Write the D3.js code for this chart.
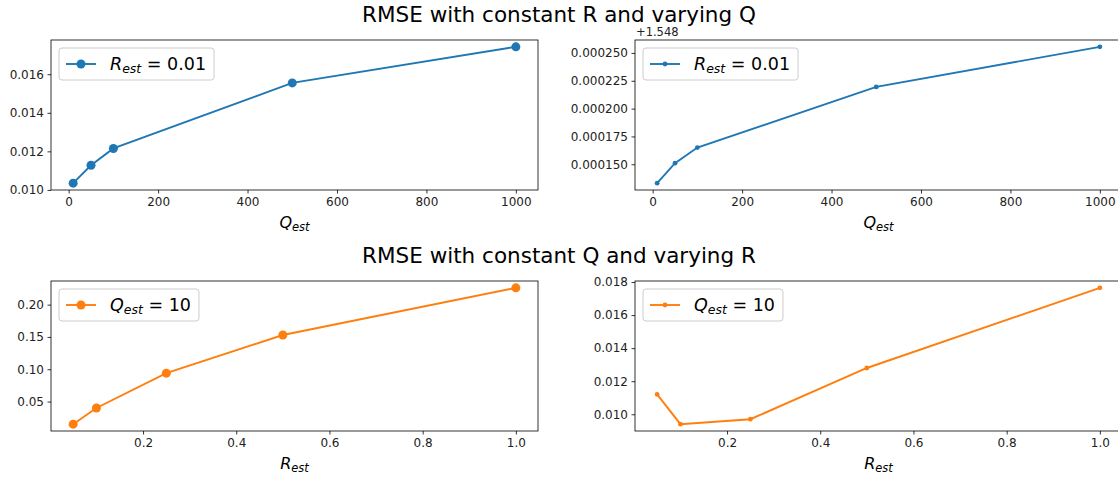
<!DOCTYPE html>
<html>
<head>
<meta charset="utf-8">
<script src="https://cdn.jsdelivr.net/npm/d3@7"></script>
<style>
  html, body { margin: 0; padding: 0; background: #fff; }
  svg { display: block; font-family: "DejaVu Sans", sans-serif; }
</style>
</head>
<body>
<svg id="chart" width="1118" height="478"></svg>
<script>
// ---- data ----
const qEst = [10, 50, 100, 500, 1000];
const rmseQ_left = [0.01035, 0.01128, 0.01215, 0.01555, 0.01742];
const rmseQ_rightOffset = 1.548;
const rmseQ_right = [0.000133, 0.000151, 0.000165, 0.0002195, 0.0002555]; // relative to offset
const rEst = [0.05, 0.1, 0.25, 0.5, 1.0];
const rmseR_left = [0.015, 0.040, 0.094, 0.153, 0.226];
const rmseR_right = [0.0112, 0.0094, 0.0097, 0.0128, 0.01765];

const qTicks = [0, 200, 400, 600, 800, 1000];
const rTicks = [0.2, 0.4, 0.6, 0.8, 1.0];
const yTicksQL = [0.010, 0.012, 0.014, 0.016];
const yTicksQR = [0.000150, 0.000175, 0.000200, 0.000225, 0.000250];
const yTicksRL = [0.05, 0.10, 0.15, 0.20];
const yTicksRR = [0.010, 0.012, 0.014, 0.016, 0.018];

const titles = ["RMSE with constant R and varying Q", "RMSE with constant Q and varying R"];

const BLUE = "#1f77b4", ORANGE = "#ff7f0e";
const svg = d3.select("#chart");

function padExtent(vals) {
  const [a, b] = d3.extent(vals);
  const m = (b - a) * 0.05;
  return [a - m, b + m];
}

// titles
svg.append("text").attr("x", 559).attr("y", 22).attr("text-anchor", "middle")
  .attr("font-size", 21.5).attr("fill", "#000").text(titles[0]);
svg.append("text").attr("x", 559).attr("y", 263).attr("text-anchor", "middle")
  .attr("font-size", 21.5).attr("fill", "#000").text(titles[1]);

function panel(cfg) {
  const g = svg.append("g").attr("transform", `translate(${cfg.x},${cfg.y})`);
  const x = d3.scaleLinear().domain(padExtent(cfg.xs)).range([0, cfg.w]);
  const y = d3.scaleLinear().domain(padExtent(cfg.ys)).range([cfg.h, 0]);

  const xAxis = d3.axisBottom(x).tickValues(cfg.xTicks).tickSize(3.5).tickPadding(3.5)
    .tickFormat(cfg.xFmt);
  const yAxis = d3.axisLeft(y).tickValues(cfg.yTicks).tickSize(3.5).tickPadding(3.5)
    .tickFormat(cfg.yFmt);

  const gx = g.append("g").attr("transform", `translate(0,${cfg.h})`).call(xAxis);
  const gy = g.append("g").call(yAxis);
  [gx, gy].forEach(a => {
    a.select(".domain").remove();
    a.selectAll(".tick line").attr("stroke", "#000").attr("stroke-width", 0.8);
    a.selectAll(".tick text").attr("font-size", 12).attr("fill", "#222")
      .attr("font-family", "DejaVu Sans");
  });

  // spines
  g.append("rect").attr("x", 0).attr("y", 0).attr("width", cfg.w).attr("height", cfg.h)
    .attr("fill", "none").attr("stroke", "#000").attr("stroke-width", 0.8);

  const pts = cfg.xs.map((d, i) => [d, cfg.ys[i]]);
  const line = d3.line().x(d => x(d[0])).y(d => y(d[1]));
  g.append("path").datum(pts).attr("d", line).attr("fill", "none")
    .attr("stroke", cfg.color).attr("stroke-width", 1.9);
  g.selectAll("circle.pt").data(pts).enter().append("circle").attr("class", "pt")
    .attr("cx", d => x(d[0])).attr("cy", d => y(d[1])).attr("r", cfg.r).attr("fill", cfg.color);

  // x label (mathtext-like)
  const xl = g.append("text").attr("x", cfg.w / 2).attr("y", cfg.h + 38)
    .attr("text-anchor", "middle").attr("font-size", 16).attr("fill", "#000");
  xl.append("tspan").attr("font-style", "italic").text(cfg.xLabel);
  xl.append("tspan").attr("font-style", "italic").attr("font-size", 11.5).attr("dy", 3).text("est");

  // offset text
  if (cfg.offsetText) {
    g.append("text").attr("x", 1).attr("y", -4).attr("font-size", 11.5).attr("fill", "#222")
      .text(cfg.offsetText);
  }

  // legend
  const lg = g.append("g").attr("transform", "translate(8,8)");
  const box = lg.append("rect").attr("rx", 3).attr("ry", 3).attr("fill", "#fff")
    .attr("fill-opacity", 0.8).attr("stroke", "#ccc").attr("stroke-width", 1);
  lg.append("line").attr("x1", 7).attr("x2", 37).attr("y1", 16).attr("y2", 16)
    .attr("stroke", cfg.color).attr("stroke-width", 1.9);
  lg.append("circle").attr("cx", 22).attr("cy", 16).attr("r", cfg.r).attr("fill", cfg.color);
  const lt = lg.append("text").attr("x", 51).attr("y", 22).attr("font-size", 17.5).attr("fill", "#000");
  lt.append("tspan").attr("font-style", "italic").text(cfg.legendVar);
  lt.append("tspan").attr("font-style", "italic").attr("font-size", 12.5).attr("dy", 3).text("est");
  lt.append("tspan").attr("dy", -3).text("\u00a0=\u00a0" + cfg.legendVal);
  const tw = lt.node().getComputedTextLength();
  box.attr("x", 0).attr("y", 0).attr("width", 51 + tw + 8).attr("height", 32);
}

panel({ x: 51, y: 40, w: 487, h: 150, xs: qEst, ys: rmseQ_left, color: BLUE, r: 4.5,
  xTicks: qTicks, yTicks: yTicksQL, xFmt: d3.format("d"), yFmt: d3.format(".3f"),
  xLabel: "Q", legendVar: "R", legendVal: "0.01" });
panel({ x: 635, y: 40, w: 487, h: 150, xs: qEst, ys: rmseQ_right, color: BLUE, r: 2.4,
  xTicks: qTicks, yTicks: yTicksQR, xFmt: d3.format("d"), yFmt: d3.format(".6f"),
  xLabel: "Q", legendVar: "R", legendVal: "0.01", offsetText: "+" + rmseQ_rightOffset });
panel({ x: 51, y: 281, w: 487, h: 150, xs: rEst, ys: rmseR_left, color: ORANGE, r: 4.5,
  xTicks: rTicks, yTicks: yTicksRL, xFmt: d3.format(".1f"), yFmt: d3.format(".2f"),
  xLabel: "R", legendVar: "Q", legendVal: "10" });
panel({ x: 635, y: 281, w: 487, h: 150, xs: rEst, ys: rmseR_right, color: ORANGE, r: 2.4,
  xTicks: rTicks, yTicks: yTicksRR, xFmt: d3.format(".1f"), yFmt: d3.format(".3f"),
  xLabel: "R", legendVar: "Q", legendVal: "10" });
</script>
</body>
</html>
